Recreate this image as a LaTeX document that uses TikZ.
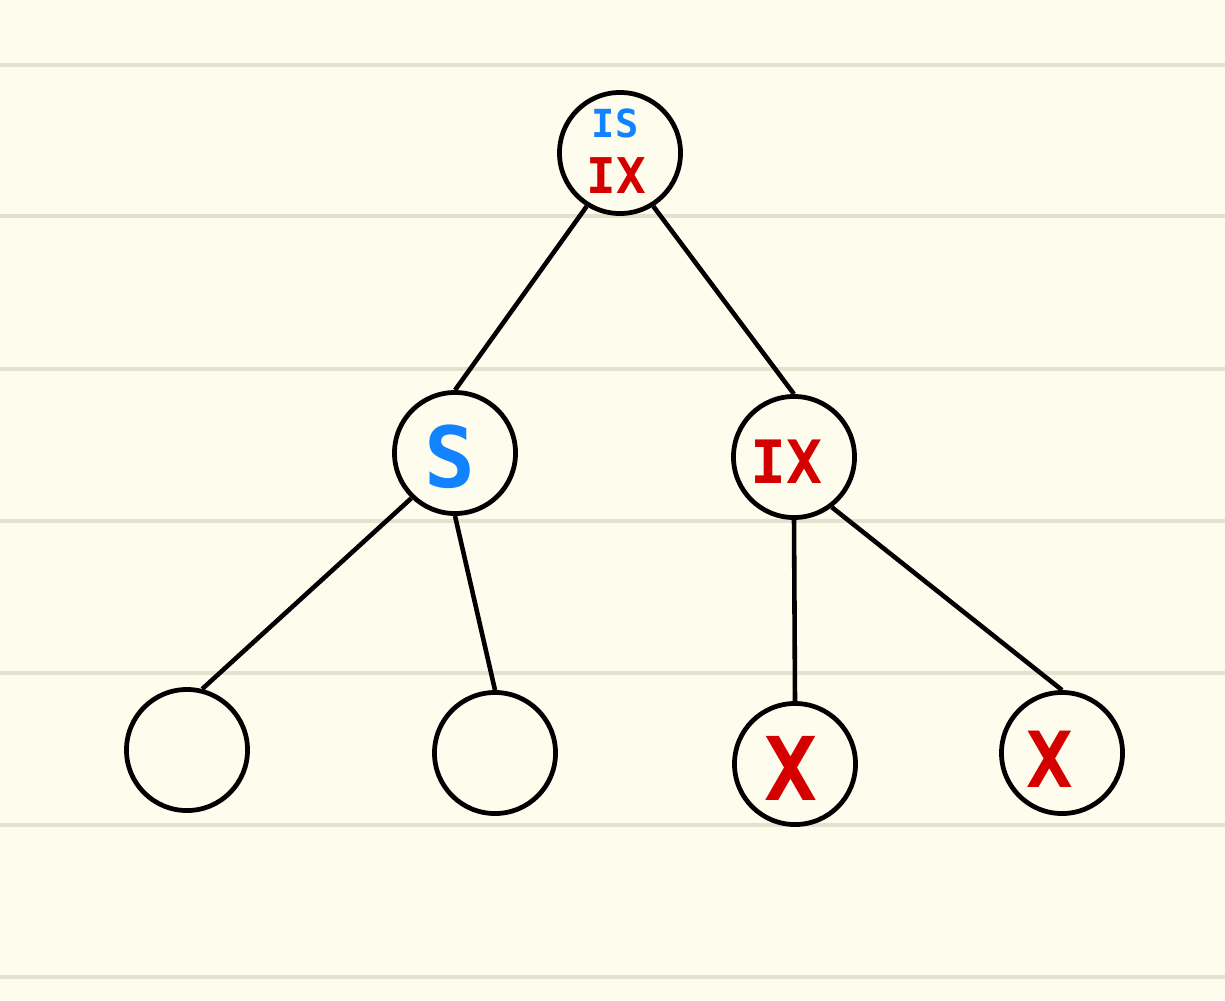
\documentclass[tikz,border=0pt]{standalone}
\usepackage{fontspec}
\setmainfont{DejaVu Sans Mono}
\definecolor{paper}{HTML}{FEFCEC}
\definecolor{rule}{HTML}{E4E1D1}
\definecolor{inkblue}{HTML}{1283FF}
\definecolor{inkred}{HTML}{D40000}
\tikzset{
  treenode/.style={circle, draw=black, line width=1.35pt, minimum size=1.21cm, inner sep=0pt, fill=paper},
  edge/.style={draw=black, line width=1.3pt},
  bluetxt/.style={text=inkblue},
  redtxt/.style={text=inkred},
}
\newcommand{\inksize}[1]{\bfseries\fontsize{#1}{#1}\selectfont}
\begin{document}
\begin{tikzpicture}[x=0.01cm, y=-0.01cm]
  % paper and ruled lines
  \fill[paper] (0,0) rectangle (1225,1000);
  \useasboundingbox (0,0) rectangle (1225,1000);
  \foreach \yy in {65,216,369,521,673,825,977}
    \draw[rule, line width=1.4pt] (0,\yy) -- (1225,\yy);

  % nodes
  \node[treenode] (root) at (620,153) {};
  \node[treenode] (l) at (455,453) {};
  \node[treenode] (r) at (794,457) {};
  \node[treenode] (ll) at (187,750) {};
  \node[treenode] (lr) at (495,753) {};
  \node[treenode] (rl) at (795,764) {};
  \node[treenode] (rr) at (1062,753) {};

  % labels
  \node[bluetxt, font=\inksize{11}] (rootA) at (615,123) {IS};
  \node[redtxt, font=\inksize{14}] (rootB) at (616,176) {IX};
  \node[bluetxt, font=\inksize{24}] (lA) at (450,457) {S};
  \node[redtxt, font=\inksize{17}] (rA) at (786,462) {IX};
  \node[redtxt, font=\inksize{25}] (rlA) at (791,768) {X};
  \node[redtxt, font=\inksize{22}] (rrA) at (1050,759) {X};

  % connectors
  \draw[edge] (root.-122) -- (l.north);
  \draw[edge] (root.-58) -- (r.north);
  \draw[edge] (l.-134) -- (ll.76);
  \draw[edge] (l.south) -- (lr.north);
  \draw[edge] (r.south) -- (rl.north);
  \draw[edge] (r.-53) -- (rr.north);
\end{tikzpicture}
\end{document}
